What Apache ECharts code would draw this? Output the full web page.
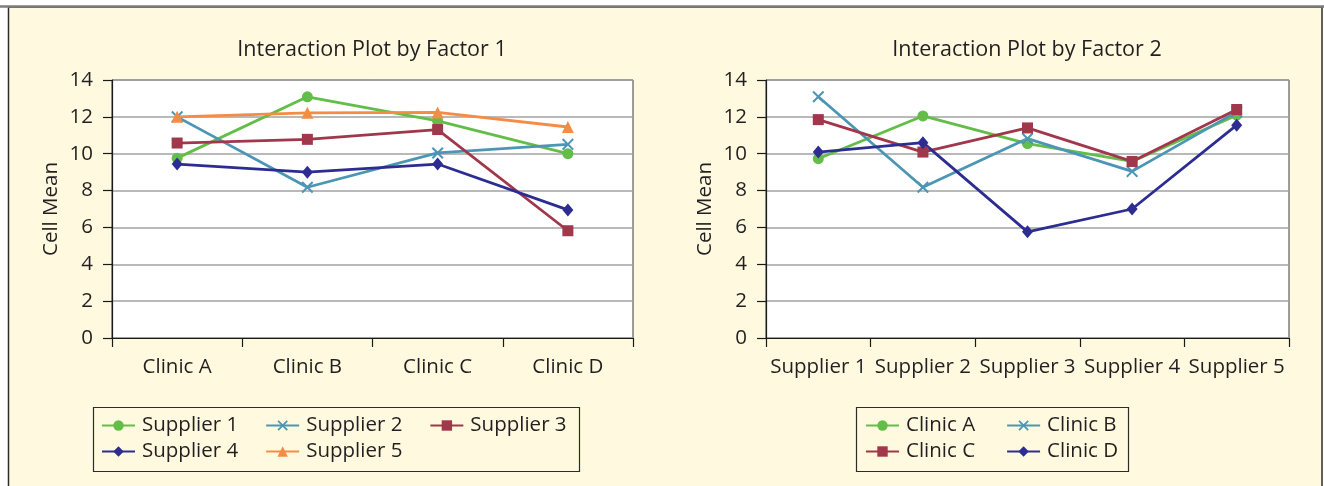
<!DOCTYPE html>
<html>
<head>
<meta charset="utf-8">
<script src="https://cdn.jsdelivr.net/npm/echarts@6/dist/echarts.min.js"></script>
<style>
  html, body { margin: 0; padding: 0; background: #fff; }
  #chart-holder { width: 1324px; height: 486px; }
</style>
</head>
<body>
<div id="chart-holder"></div>
<script>
const clinics = ['Clinic A', 'Clinic B', 'Clinic C', 'Clinic D'];
const suppliers = ['Supplier 1', 'Supplier 2', 'Supplier 3', 'Supplier 4', 'Supplier 5'];
const yTicks = [0, 2, 4, 6, 8, 10, 12, 14];

// factor 1 plot: one line per supplier, across clinics
const supplier1Means = [9.76, 13.09, 11.78, 10.0];
const supplier2Means = [12.0, 8.18, 10.04, 10.51];
const supplier3Means = [10.58, 10.78, 11.31, 5.82];
const supplier4Means = [9.44, 9.0, 9.44, 6.95];
const supplier5Means = [12.0, 12.22, 12.24, 11.45];

// factor 2 plot: one line per clinic, across suppliers
const clinicAMeans = [9.73, 12.05, 10.55, 9.58, 12.09];
const clinicBMeans = [13.09, 8.18, 10.82, 9.04, 12.27];
const clinicCMeans = [11.85, 10.09, 11.4, 9.58, 12.4];
const clinicDMeans = [10.09, 10.6, 5.76, 7.0, 11.55];

const FONT = 'Open Sans';
const TEXT_COLOR = '#231f20';
const PANEL_COLOR = '#fffadf';

const GREEN = '#62be48';
const TEAL = '#4b96b4';
const MAROON = '#a0374b';
const NAVY = '#2d2d91';
const ORANGE = '#f58c46';

const CROSS = 'path://M0,1.2L1.2,0L5,3.8L8.8,0L10,1.2L6.2,5L10,8.8L8.8,10L5,6.2L1.2,10L0,8.8L3.8,5Z';

const markers = {
  circle: { symbol: 'circle', symbolSize: 11 },
  cross: { symbol: CROSS, symbolSize: 12 },
  square: { symbol: 'rect', symbolSize: 11 },
  diamond: { symbol: 'diamond', symbolSize: [11, 13] },
  triangle: { symbol: 'triangle', symbolSize: 12 },
};

const textStyle = {
  fontFamily: FONT,
  fontSize: 20.5,
  color: TEXT_COLOR,
};

function makeXAxis(gridIndex, categories) {
  return {
    gridIndex,
    type: 'category',
    data: categories,
    boundaryGap: true,
    axisLine: { show: true, lineStyle: { color: '#1a1a1a', width: 1.2 } },
    axisTick: { show: true, length: 9, interval: 0, lineStyle: { color: '#1a1a1a', width: 1.2 } },
    axisLabel: { interval: 0, margin: 19, ...textStyle },
    splitLine: { show: false },
  };
}

function makeYAxis(gridIndex) {
  return {
    gridIndex,
    type: 'value',
    min: yTicks[0],
    max: yTicks[yTicks.length - 1],
    interval: yTicks[1] - yTicks[0],
    name: 'Cell Mean',
    nameLocation: 'middle',
    nameGap: 50,
    nameTextStyle: { ...textStyle },
    axisLine: { show: true, lineStyle: { color: '#1a1a1a', width: 1.2 } },
    axisTick: { show: true, length: 9, lineStyle: { color: '#1a1a1a', width: 1.2 } },
    axisLabel: { margin: 19, ...textStyle },
    splitLine: { show: true, lineStyle: { color: '#a2a2a2', width: 1.5 } },
  };
}

function makeSeries(name, data, color, marker, axisIndex) {
  return {
    name,
    type: 'line',
    data,
    xAxisIndex: axisIndex,
    yAxisIndex: axisIndex,
    symbol: marker.symbol,
    symbolSize: marker.symbolSize,
    showAllSymbol: true,
    color,
    lineStyle: { color, width: 2.8 },
    itemStyle: { color, borderColor: color, borderWidth: 0 },
    emphasis: { disabled: true },
    animation: false,
  };
}

function makeLegend(names, left, top, itemGap) {
  return {
    data: names,
    left,
    top,
    orient: 'horizontal',
    padding: 0,
    itemGap,
    itemWidth: 33,
    itemHeight: 13,
    selectedMode: false,
    textStyle: { ...textStyle, padding: [0, 0, 0, 2] },
  };
}

const chartHolder = document.getElementById('chart-holder');
const chart = echarts.init(chartHolder, null, { renderer: 'canvas' });

const chartDescription = {
  backgroundColor: '#ffffff',
  animation: false,
  graphic: [
    {
      type: 'rect',
      z: -10,
      shape: { x: 8.5, y: 7, width: 1313.5, height: 500 },
      style: { fill: PANEL_COLOR, stroke: '#2b2b2b', lineWidth: 1.5 },
    },
    {
      type: 'line',
      z: -9,
      shape: { x1: 0, y1: 6.5, x2: 1324, y2: 6.5 },
      style: { stroke: '#7d7d7d', lineWidth: 2.5 },
    },
    {
      type: 'rect',
      z: -8,
      shape: { x: 93.5, y: 407.5, width: 486, height: 64 },
      style: { fill: PANEL_COLOR, stroke: '#2b2b2b', lineWidth: 1.2 },
    },
    {
      type: 'rect',
      z: -8,
      shape: { x: 856.5, y: 407.5, width: 272, height: 64 },
      style: { fill: PANEL_COLOR, stroke: '#2b2b2b', lineWidth: 1.2 },
    },
  ],
  title: [
    {
      text: 'Interaction Plot by Factor 1',
      left: 367,
      textAlign: 'center',
      top: 34,
      textStyle: { ...textStyle, fontSize: 21.5, fontWeight: 'normal' },
    },
    {
      text: 'Interaction Plot by Factor 2',
      left: 1022,
      textAlign: 'center',
      top: 34,
      textStyle: { ...textStyle, fontSize: 21.5, fontWeight: 'normal' },
    },
  ],
  legend: [
    makeLegend(suppliers.slice(0, 3), 101, 415, 27),
    makeLegend(suppliers.slice(3), 101, 441, 27),
    makeLegend(clinics.slice(0, 2), 865, 415, 31),
    makeLegend(clinics.slice(2), 865, 441, 31),
  ],
  grid: [
    {
      left: 112, right: 691, top: 80, bottom: 148,
      show: true, backgroundColor: '#ffffff', borderColor: '#3a3a3a', borderWidth: 1,
    },
    {
      left: 766, right: 35, top: 80, bottom: 148,
      show: true, backgroundColor: '#ffffff', borderColor: '#3a3a3a', borderWidth: 1,
    },
  ],
  xAxis: [makeXAxis(0, clinics), makeXAxis(1, suppliers)],
  yAxis: [makeYAxis(0), makeYAxis(1)],
  series: [
    makeSeries('Supplier 1', supplier1Means, GREEN, markers.circle, 0),
    makeSeries('Supplier 2', supplier2Means, TEAL, markers.cross, 0),
    makeSeries('Supplier 3', supplier3Means, MAROON, markers.square, 0),
    makeSeries('Supplier 4', supplier4Means, NAVY, markers.diamond, 0),
    makeSeries('Supplier 5', supplier5Means, ORANGE, markers.triangle, 0),
    makeSeries('Clinic A', clinicAMeans, GREEN, markers.circle, 1),
    makeSeries('Clinic B', clinicBMeans, TEAL, markers.cross, 1),
    makeSeries('Clinic C', clinicCMeans, MAROON, markers.square, 1),
    makeSeries('Clinic D', clinicDMeans, NAVY, markers.diamond, 1),
  ],
};

chart.setOption(chartDescription);
</script>
</body>
</html>
